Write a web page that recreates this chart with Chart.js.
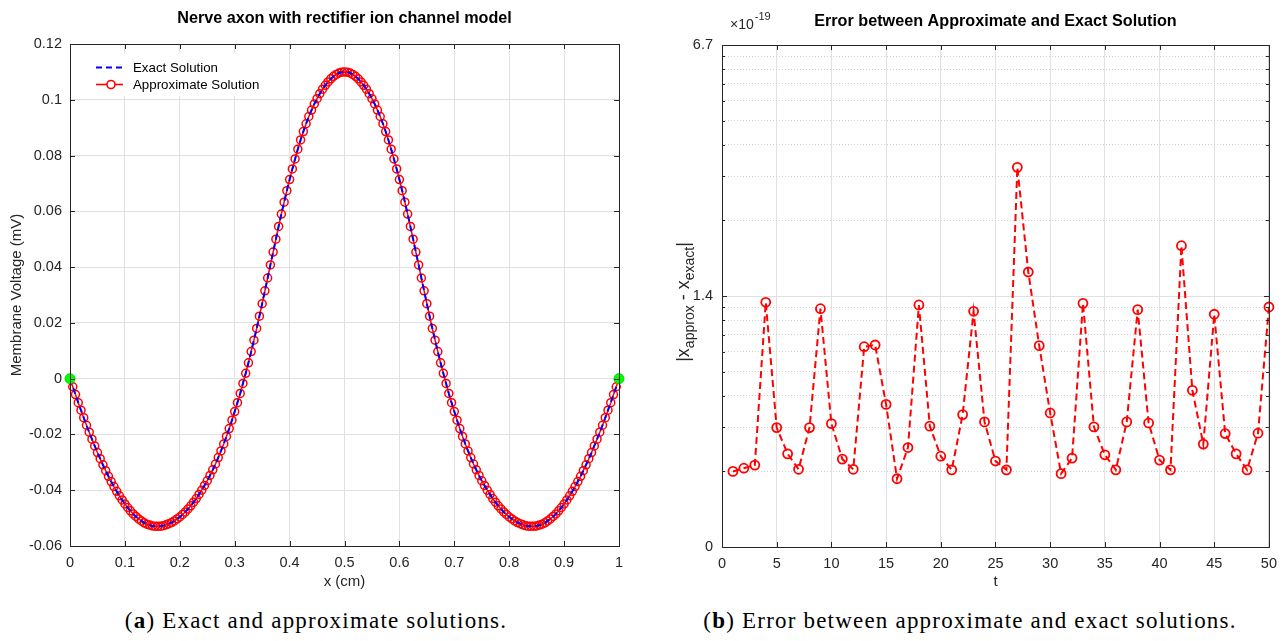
<!DOCTYPE html>
<html lang="en">
<head>
  <meta charset="utf-8" />
  <title>Nerve axon with rectifier ion channel model</title>
  <style>
    * {
      margin: 0;
      padding: 0;
      box-sizing: border-box;
    }

    body {
      width: 1285px;
      height: 641px;
      background: #ffffff;
      position: relative;
      overflow: hidden;
    }

    canvas {
      position: absolute;
      top: 0;
    }

    #left-chart {
      left: 0;
    }

    #right-chart {
      left: 640px;
    }

    .caption {
      position: absolute;
      top: 608px;
      transform: translateX(-50%);
      white-space: nowrap;
      font-family: "Liberation Serif", serif;
      font-size: 23px;
      letter-spacing: 1.2px;
      color: #000000;
    }
  </style>
</head>
<body>
  <canvas id="left-chart" width="640" height="600"></canvas>
  <canvas id="right-chart" width="645" height="600"></canvas>
  <div class="caption" style="left: 316px">(<b>a</b>) Exact and approximate solutions.</div>
  <div class="caption" style="left: 970px">(<b>b</b>) Error between approximate and exact solutions.</div>

  <script src="https://cdn.jsdelivr.net/npm/chart.js@4.4.1/dist/chart.umd.min.js"></script>
  <script>
    // ---- data (a): membrane voltage along the axon ----
    const xPositions = [
      0, 0.005, 0.01, 0.015, 0.02, 0.025, 0.03, 0.035, 0.04, 0.045,
      0.05, 0.055, 0.06, 0.065, 0.07, 0.075, 0.08, 0.085, 0.09, 0.095,
      0.1, 0.105, 0.11, 0.115, 0.12, 0.125, 0.13, 0.135, 0.14, 0.145,
      0.15, 0.155, 0.16, 0.165, 0.17, 0.175, 0.18, 0.185, 0.19, 0.195,
      0.2, 0.205, 0.21, 0.215, 0.22, 0.225, 0.23, 0.235, 0.24, 0.245,
      0.25, 0.255, 0.26, 0.265, 0.27, 0.275, 0.28, 0.285, 0.29, 0.295,
      0.3, 0.305, 0.31, 0.315, 0.32, 0.325, 0.33, 0.335, 0.34, 0.345,
      0.35, 0.355, 0.36, 0.365, 0.37, 0.375, 0.38, 0.385, 0.39, 0.395,
      0.4, 0.405, 0.41, 0.415, 0.42, 0.425, 0.43, 0.435, 0.44, 0.445,
      0.45, 0.455, 0.46, 0.465, 0.47, 0.475, 0.48, 0.485, 0.49, 0.495,
      0.5,
      0.505, 0.51, 0.515, 0.52, 0.525, 0.53, 0.535, 0.54, 0.545, 0.55,
      0.555, 0.56, 0.565, 0.57, 0.575, 0.58, 0.585, 0.59, 0.595, 0.6,
      0.605, 0.61, 0.615, 0.62, 0.625, 0.63, 0.635, 0.64, 0.645, 0.65,
      0.655, 0.66, 0.665, 0.67, 0.675, 0.68, 0.685, 0.69, 0.695, 0.7,
      0.705, 0.71, 0.715, 0.72, 0.725, 0.73, 0.735, 0.74, 0.745, 0.75,
      0.755, 0.76, 0.765, 0.77, 0.775, 0.78, 0.785, 0.79, 0.795, 0.8,
      0.805, 0.81, 0.815, 0.82, 0.825, 0.83, 0.835, 0.84, 0.845, 0.85,
      0.855, 0.86, 0.865, 0.87, 0.875, 0.88, 0.885, 0.89, 0.895, 0.9,
      0.905, 0.91, 0.915, 0.92, 0.925, 0.93, 0.935, 0.94, 0.945, 0.95,
      0.955, 0.96, 0.965, 0.97, 0.975, 0.98, 0.985, 0.99, 0.995, 1
    ];

    const exactVoltage = [
      0, -0.0029, -0.0057, -0.0086, -0.0113, -0.0140, -0.0167, -0.0192, -0.0217, -0.0241,
      -0.0265, -0.0287, -0.0309, -0.0330, -0.0350, -0.0369, -0.0387, -0.0404, -0.0420, -0.0435,
      -0.0449, -0.0462, -0.0474, -0.0485, -0.0494, -0.0503, -0.0510, -0.0517, -0.0522, -0.0525,
      -0.0528, -0.0529, -0.0529, -0.0529, -0.0527, -0.0524, -0.0520, -0.0516, -0.0510, -0.0503,
      -0.0496, -0.0487, -0.0478, -0.0467, -0.0456, -0.0443, -0.0430, -0.0415, -0.0400, -0.0383,
      -0.0366, -0.0347, -0.0327, -0.0306, -0.0283, -0.0259, -0.0234, -0.0207, -0.0179, -0.0149,
      -0.0118, -0.0086, -0.0053, -0.0017, 0.0019, 0.0057, 0.0097, 0.0138, 0.0180, 0.0224,
      0.0269, 0.0315, 0.0361, 0.0408, 0.0454, 0.0500, 0.0546, 0.0590, 0.0633, 0.0674,
      0.0714, 0.0752, 0.0788, 0.0823, 0.0856, 0.0886, 0.0914, 0.0940, 0.0963, 0.0985,
      0.1004, 0.1022, 0.1038, 0.1052, 0.1064, 0.1075, 0.1084, 0.1091, 0.1096, 0.1099,
      0.1100,
      0.1099, 0.1096, 0.1091, 0.1084, 0.1075, 0.1064, 0.1052, 0.1038, 0.1022, 0.1004,
      0.0985, 0.0963, 0.0940, 0.0914, 0.0886, 0.0856, 0.0823, 0.0788, 0.0752, 0.0714,
      0.0674, 0.0633, 0.0590, 0.0546, 0.0500, 0.0454, 0.0408, 0.0361, 0.0315, 0.0269,
      0.0224, 0.0180, 0.0138, 0.0097, 0.0057, 0.0019, -0.0017, -0.0053, -0.0086, -0.0118,
      -0.0149, -0.0179, -0.0207, -0.0234, -0.0259, -0.0283, -0.0306, -0.0327, -0.0347, -0.0366,
      -0.0383, -0.0400, -0.0415, -0.0430, -0.0443, -0.0456, -0.0467, -0.0478, -0.0487, -0.0496,
      -0.0503, -0.0510, -0.0516, -0.0520, -0.0524, -0.0527, -0.0529, -0.0529, -0.0529, -0.0528,
      -0.0525, -0.0522, -0.0517, -0.0510, -0.0503, -0.0494, -0.0485, -0.0474, -0.0462, -0.0449,
      -0.0435, -0.0420, -0.0404, -0.0387, -0.0369, -0.0350, -0.0330, -0.0309, -0.0287, -0.0265,
      -0.0241, -0.0217, -0.0192, -0.0167, -0.0140, -0.0113, -0.0086, -0.0057, -0.0029, 0
    ];

    // the approximate solution sits on top of the exact one at this scale
    const approxVoltage = exactVoltage;

    const boundaryX = [0, 1];
    const boundaryVoltage = [0, 0];

    // ---- data (b): absolute error per time step (log axis, units of the plot) ----
    const timeSteps = [
      1, 2, 3, 4, 5, 6, 7, 8, 9, 10,
      11, 12, 13, 14, 15, 16, 17, 18, 19, 20,
      21, 22, 23, 24, 25, 26, 27, 28, 29, 30,
      31, 32, 33, 34, 35, 36, 37, 38, 39, 40,
      41, 42, 43, 44, 45, 46, 47, 48, 49, 50
    ];

    const errorValues = [
      0.200, 0.206, 0.212, 0.944, 0.299, 0.235, 0.204, 0.299, 0.890, 0.310,
      0.224, 0.204, 0.628, 0.638, 0.370, 0.187, 0.249, 0.921, 0.303, 0.230,
      0.203, 0.337, 0.869, 0.315, 0.220, 0.203, 3.256, 1.246, 0.634, 0.342,
      0.196, 0.226, 0.935, 0.301, 0.233, 0.203, 0.315, 0.882, 0.312, 0.222,
      0.203, 1.586, 0.421, 0.257, 0.846, 0.283, 0.235, 0.203, 0.284, 0.904
    ];

    const errorMajorTicks = [0.1, 1, 10];
    const errorMajorLabels = ["0", "1.4", "6.7"];
    const errorMinorTicks = [0.2, 0.3, 0.4, 0.5, 0.6, 0.7, 0.8, 0.9, 2, 3, 4, 5, 6, 7, 8, 9];

    // ---- shared look ----
    const sans = '"Liberation Sans", Arial, Helvetica, sans-serif';
    const axisInk = "#262626";
    const gridInk = "#e1e1e1";
    const minorInk = "#cdcdcd";

    Chart.defaults.font.family = sans;
    Chart.defaults.color = axisInk;

    const toPoints = (xs, ys) => xs.map((x, i) => ({ x: x, y: ys[i] }));
    // MATLAB drops trailing zeros: 0.1, 0.08, 0
    const shortNumber = (value) => String(Number(value.toFixed(4)));

    // box round the plot area with short inward tick marks on all four sides
    const makeFrame = (yTickLength) => ({
      id: "frame",
      afterDraw(chart) {
        const { ctx, chartArea: a, scales } = chart;
        ctx.save();
        ctx.strokeStyle = axisInk;
        ctx.lineWidth = 1;
        ctx.strokeRect(a.left + 0.5, a.top + 0.5, a.right - a.left, a.bottom - a.top);
        ctx.beginPath();
        scales.x.ticks.forEach((t) => {
          const px = Math.round(scales.x.getPixelForValue(t.value)) + 0.5;
          ctx.moveTo(px, a.bottom);
          ctx.lineTo(px, a.bottom - 5);
          ctx.moveTo(px, a.top);
          ctx.lineTo(px, a.top + 5);
        });
        scales.y.ticks.forEach((t) => {
          const py = Math.round(scales.y.getPixelForValue(t.value)) + 0.5;
          const len = yTickLength(t.value);
          ctx.moveTo(a.left, py);
          ctx.lineTo(a.left + len, py);
          ctx.moveTo(a.right, py);
          ctx.lineTo(a.right - len, py);
        });
        ctx.stroke();
        ctx.restore();
      },
    });

    const makeTitle = (text, y) => ({
      id: "plotTitle",
      afterDraw(chart) {
        const { ctx, chartArea: a } = chart;
        ctx.save();
        ctx.fillStyle = "#000000";
        ctx.font = "bold 16.2px " + sans;
        ctx.textAlign = "center";
        ctx.textBaseline = "middle";
        ctx.fillText(text, (a.left + a.right) / 2, y);
        ctx.restore();
      },
    });

    // legend in the upper left corner of plot (a)
    const voltageLegend = {
      id: "voltageLegend",
      afterDraw(chart) {
        const { ctx } = chart;
        const sets = chart.data.datasets;
        ctx.save();
        ctx.fillStyle = "#ffffff";
        ctx.fillRect(77, 53, 190, 43);
        ctx.lineWidth = 2;
        ctx.strokeStyle = sets[0].borderColor;
        ctx.setLineDash([6, 4]);
        ctx.beginPath();
        ctx.moveTo(96, 67.5);
        ctx.lineTo(123, 67.5);
        ctx.stroke();
        ctx.setLineDash([]);
        ctx.lineWidth = 1.6;
        ctx.strokeStyle = sets[1].borderColor;
        ctx.beginPath();
        ctx.moveTo(96, 84.5);
        ctx.lineTo(123, 84.5);
        ctx.stroke();
        ctx.beginPath();
        ctx.arc(111, 84.5, 4, 0, Math.PI * 2);
        ctx.fillStyle = "#ffffff";
        ctx.fill();
        ctx.stroke();
        ctx.fillStyle = "#000000";
        ctx.font = "13.3px " + sans;
        ctx.textBaseline = "middle";
        ctx.fillText(sets[0].label, 133, 68);
        ctx.fillText(sets[1].label, 133, 85);
        ctx.restore();
      },
    };

    // exponent note and the subscripted y label of plot (b)
    const errorLabels = {
      id: "errorLabels",
      afterDraw(chart) {
        const { ctx, chartArea: a } = chart;
        ctx.save();
        ctx.fillStyle = axisInk;
        ctx.textBaseline = "alphabetic";
        ctx.font = "14px " + sans;
        ctx.fillText("\u00d710", 90, 29);
        const w = ctx.measureText("\u00d710").width;
        ctx.font = "11px " + sans;
        ctx.fillText("-19", 90 + w + 1, 20);

        const parts = [
          ["|x", 18, 0],
          ["approx", 14, 5],
          [" - x", 18, 0],
          ["exact", 14, 5],
          ["|", 18, 0],
        ];
        let total = 0;
        parts.forEach((p) => {
          ctx.font = p[1] + "px " + sans;
          p.push(ctx.measureText(p[0]).width);
          total += p[3];
        });
        ctx.translate(49, (a.top + a.bottom) / 2 + 6);
        ctx.rotate(-Math.PI / 2);
        let cx = -total / 2;
        parts.forEach((p) => {
          ctx.font = p[1] + "px " + sans;
          ctx.fillText(p[0], cx, p[2]);
          cx += p[3];
        });
        ctx.restore();
      },
    };

    // ---- chart (a) ----
    new Chart(document.getElementById("left-chart"), {
      type: "scatter",
      data: {
        datasets: [
          {
            label: "Exact Solution",
            data: toPoints(xPositions, exactVoltage),
            showLine: true,
            borderColor: "#0000ff",
            borderWidth: 2,
            borderDash: [6, 4],
            pointRadius: 0,
            order: 1,
          },
          {
            label: "Approximate Solution",
            data: toPoints(xPositions, approxVoltage),
            showLine: true,
            borderColor: "#ff0000",
            borderWidth: 1.5,
            pointRadius: 4,
            pointBorderWidth: 1.5,
            pointBorderColor: "#ff0000",
            pointBackgroundColor: "rgba(255,255,255,0)",
            order: 2,
            clip: false,
          },
          {
            label: "boundary",
            data: toPoints(boundaryX, boundaryVoltage),
            pointRadius: 5,
            pointBorderWidth: 1,
            pointBorderColor: "#00dd00",
            pointBackgroundColor: "#00ff00",
            order: 0,
            clip: false,
          },
        ],
      },
      options: {
        responsive: false,
        animation: false,
        events: [],
        layout: { padding: { left: 0, right: 21, top: 44, bottom: 0 } },
        plugins: { legend: { display: false }, tooltip: { enabled: false } },
        scales: {
          x: {
            type: "linear",
            min: 0,
            max: 1,
            ticks: { stepSize: 0.1, padding: 8, font: { size: 14.5 }, maxRotation: 0, callback: shortNumber },
            grid: { color: gridInk, drawTicks: false },
            border: { display: false },
            title: { display: true, text: "x (cm)", font: { size: 15 }, padding: { top: 0, bottom: 9 } },
            afterFit: (scale) => { scale.height = 54; },
          },
          y: {
            min: -0.06,
            max: 0.12,
            ticks: { stepSize: 0.02, padding: 8, font: { size: 14.5 }, callback: shortNumber },
            grid: { color: gridInk, drawTicks: false },
            border: { display: false },
            title: { display: true, text: "Membrane Voltage (mV)", font: { size: 15 }, padding: { top: 8, bottom: 0 } },
            afterFit: (scale) => { scale.width = 70; },
          },
        },
      },
      plugins: [makeFrame(() => 5), makeTitle("Nerve axon with rectifier ion channel model", 19), voltageLegend],
    });

    // ---- chart (b) ----
    const isMajorError = (v) => errorMajorTicks.includes(v);

    new Chart(document.getElementById("right-chart"), {
      type: "scatter",
      data: {
        datasets: [
          {
            label: "error",
            data: toPoints(timeSteps, errorValues),
            showLine: true,
            borderColor: "#ff0000",
            borderWidth: 2,
            borderDash: [7, 4],
            pointRadius: 4.5,
            pointBorderWidth: 1.8,
            pointBorderColor: "#ff0000",
            pointBackgroundColor: "rgba(255,255,255,0)",
            clip: false,
          },
        ],
      },
      options: {
        responsive: false,
        animation: false,
        events: [],
        layout: { padding: { left: 0, right: 15, top: 45, bottom: 0 } },
        plugins: { legend: { display: false }, tooltip: { enabled: false } },
        scales: {
          x: {
            type: "linear",
            min: 0,
            max: 50,
            ticks: { stepSize: 5, padding: 8, font: { size: 14.5 }, maxRotation: 0 },
            grid: { color: gridInk, drawTicks: false },
            border: { display: false },
            title: { display: true, text: "t", font: { size: 15 }, padding: { top: 0, bottom: 9 } },
            afterFit: (scale) => { scale.height = 53; },
          },
          y: {
            type: "logarithmic",
            min: 0.1,
            max: 10,
            afterBuildTicks: (scale) => {
              scale.ticks = errorMajorTicks
                .concat(errorMinorTicks)
                .sort((p, q) => p - q)
                .map((v) => ({ value: v, major: false }));
            },
            ticks: {
              autoSkip: false,
              padding: 9,
              font: { size: 14.5 },
              callback: (value) => {
                const i = errorMajorTicks.indexOf(value);
                return i >= 0 ? errorMajorLabels[i] : "";
              },
            },
            grid: {
              drawTicks: false,
              color: (ctx) => (ctx.tick && !isMajorError(ctx.tick.value) ? minorInk : gridInk),
            },
            border: {
              display: false,
              dash: (ctx) => (ctx.tick && !isMajorError(ctx.tick.value) ? [1, 2] : []),
            },
            afterFit: (scale) => { scale.width = 82; },
          },
        },
      },
      plugins: [
        makeFrame((v) => (isMajorError(v) ? 5 : 3)),
        makeTitle("Error between Approximate and Exact Solution", 22),
        errorLabels,
      ],
    });
  </script>
</body>
</html>
